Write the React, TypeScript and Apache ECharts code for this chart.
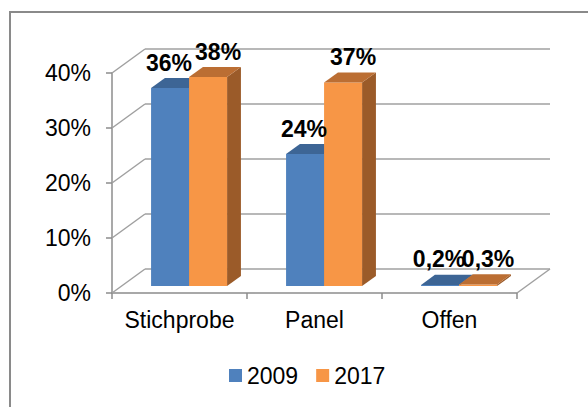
import React, { useEffect, useRef } from "react";
import * as echarts from "echarts";

const categories = ["Stichprobe", "Panel", "Offen"];
const seriesNames = ["2009", "2017"];
const values2009 = [36, 24, 0.2];
const values2017 = [38, 37, 0.3];
const yTicks = [0, 10, 20, 30, 40];

const FONT = "'Liberation Sans', Arial, sans-serif";
const DX = 33;
const DY = 24;
const Z0 = 0.29;
const Z1 = 0.71;
const BAR_FRAC = 0.2815;
const GRID_COLOR = "#a0a0a0";
const AXIS_COLOR = "#8c8c8c";

const faceColors = [
  { front: "#4f81bd", top: "#3d6595", side: "#385d8a" },
  { front: "#f79646", top: "#bb6e33", side: "#9b5b29" },
];
const labelOffsets = [-1, 10];

const fmt = (v: number) => String(v).replace(".", ",") + "%";

function barGeom(api: any, i: number, v: number, s: number) {
  const c0 = api.coord([i, 0]);
  const cv = api.coord([i, v]);
  const bandW = api.size([1, 0])[0];
  const barW = bandW * BAR_FRAC;
  const left = c0[0] - barW + s * barW + DX * Z0;
  const right = left + barW;
  const bottom = c0[1] - DY * Z0;
  const top = cv[1] - DY * Z0;
  const d = DX * (Z1 - Z0);
  const dd = DY * (Z1 - Z0);
  return { left, right, bottom, top, d, dd, barW };
}

function makeBarSeries(s: number, values: number[]) {
  const col = faceColors[s];
  return {
    type: "custom",
    name: seriesNames[s],
    coordinateSystem: "cartesian2d",
    clip: false,
    z: 3 + s,
    itemStyle: { color: col.front },
    data: values.map((v, i) => [i, v]),
    renderItem: (params: any, api: any) => {
      const i = api.value(0);
      const v = api.value(1);
      const g = barGeom(api, i, v, s);
      const h = Math.max(g.bottom - g.top, 0.6);
      const top = g.bottom - h;
      return {
        type: "group",
        children: [
          {
            type: "polygon",
            shape: {
              points: [
                [g.right, top],
                [g.right + g.d, top - g.dd],
                [g.right + g.d, g.bottom - g.dd],
                [g.right, g.bottom],
              ],
            },
            style: { fill: col.side },
          },
          {
            type: "rect",
            shape: { x: g.left, y: top, width: g.barW, height: h },
            style: { fill: col.front },
          },
          {
            type: "polygon",
            shape: {
              points: [
                [g.left, top],
                [g.right, top],
                [g.right + g.d, top - g.dd],
                [g.left + g.d, top - g.dd],
              ],
            },
            style: { fill: col.top },
          },
        ],
      };
    },
  };
}

export default function App() {
  const ref = useRef<HTMLDivElement>(null);
  useEffect(() => {
    if (!ref.current) return;
    const chart = echarts.init(ref.current, null, { renderer: "svg" });
    const labelData: number[][] = [];
    values2009.forEach((v, i) => labelData.push([i, v, 0]));
    values2017.forEach((v, i) => labelData.push([i, v, 1]));

    const option: any = {
      animation: false,
      backgroundColor: "#ffffff",
      graphic: [
        {
          type: "rect",
          shape: { x: 10, y: 12, width: 620, height: 420 },
          style: { fill: "none", stroke: "#8a8a8a", lineWidth: 2 },
          z: 0,
        },
      ],
      grid: { left: 112, right: 71, top: 73, bottom: 114, containLabel: false },
      legend: {
        data: seriesNames,
        left: 224,
        top: 359,
        icon: "rect",
        itemWidth: 13,
        itemHeight: 13,
        itemGap: 18,
        textStyle: { fontFamily: FONT, fontSize: 23, color: "#000" },
      },
      xAxis: {
        type: "category",
        data: categories,
        axisLine: { show: true, lineStyle: { color: AXIS_COLOR, width: 1.5 } },
        axisTick: { show: true, length: 6, lineStyle: { color: AXIS_COLOR, width: 1.5 } },
        axisLabel: {
          interval: 0,
          fontFamily: FONT,
          fontSize: 23,
          color: "#000",
          margin: 15,
        },
        splitLine: { show: false },
      },
      yAxis: {
        type: "value",
        min: 0,
        max: 40,
        interval: 10,
        axisLine: { show: true, lineStyle: { color: AXIS_COLOR, width: 1.5 } },
        axisTick: { show: true, length: 6, lineStyle: { color: AXIS_COLOR, width: 1.5 } },
        axisLabel: {
          fontFamily: FONT,
          fontSize: 23,
          color: "#000",
          margin: 21,
          formatter: "{value}%",
        },
        splitLine: { show: false },
      },
      series: [
        {
          type: "custom",
          name: "walls",
          coordinateSystem: "cartesian2d",
          clip: false,
          silent: true,
          z: 1,
          data: [[0, 0]],
          renderItem: (params: any, api: any) => {
            const bandW = api.size([1, 0])[0];
            const xL = api.coord([0, 0])[0] - bandW / 2;
            const xR = api.coord([categories.length - 1, 0])[0] + bandW / 2;
            const children: any[] = [];
            const ls = { stroke: GRID_COLOR, lineWidth: 1.5 };
            yTicks.forEach((t) => {
              const y = api.coord([0, t])[1];
              children.push({
                type: "line",
                shape: { x1: xL, y1: y, x2: xL + DX, y2: y - DY },
                style: ls,
              });
              children.push({
                type: "line",
                shape: { x1: xL + DX, y1: y - DY, x2: xR + DX, y2: y - DY },
                style: ls,
              });
            });
            const y0 = api.coord([0, 0])[1];
            children.push({
              type: "line",
              shape: { x1: xR, y1: y0, x2: xR + DX, y2: y0 - DY },
              style: ls,
            });
            return { type: "group", children };
          },
        },
        makeBarSeries(0, values2009),
        makeBarSeries(1, values2017),
        {
          type: "custom",
          name: "labels",
          coordinateSystem: "cartesian2d",
          clip: false,
          silent: true,
          z: 10,
          data: labelData,
          renderItem: (params: any, api: any) => {
            const i = api.value(0);
            const v = api.value(1);
            const s = api.value(2);
            const g = barGeom(api, i, v, s);
            return {
              type: "text",
              style: {
                text: fmt(v),
                x: g.left + g.barW / 2 + labelOffsets[s],
                y: g.top - 14,
                align: "center",
                verticalAlign: "bottom",
                fill: "#000",
                fontFamily: FONT,
                fontSize: 23,
                fontWeight: "bold",
              },
            };
          },
        },
      ],
    };
    chart.setOption(option);
    return () => chart.dispose();
  }, []);
  return (
    <div
      ref={ref}
      style={{ position: "absolute", left: 0, top: 0, width: 588, height: 407 }}
    />
  );
}
